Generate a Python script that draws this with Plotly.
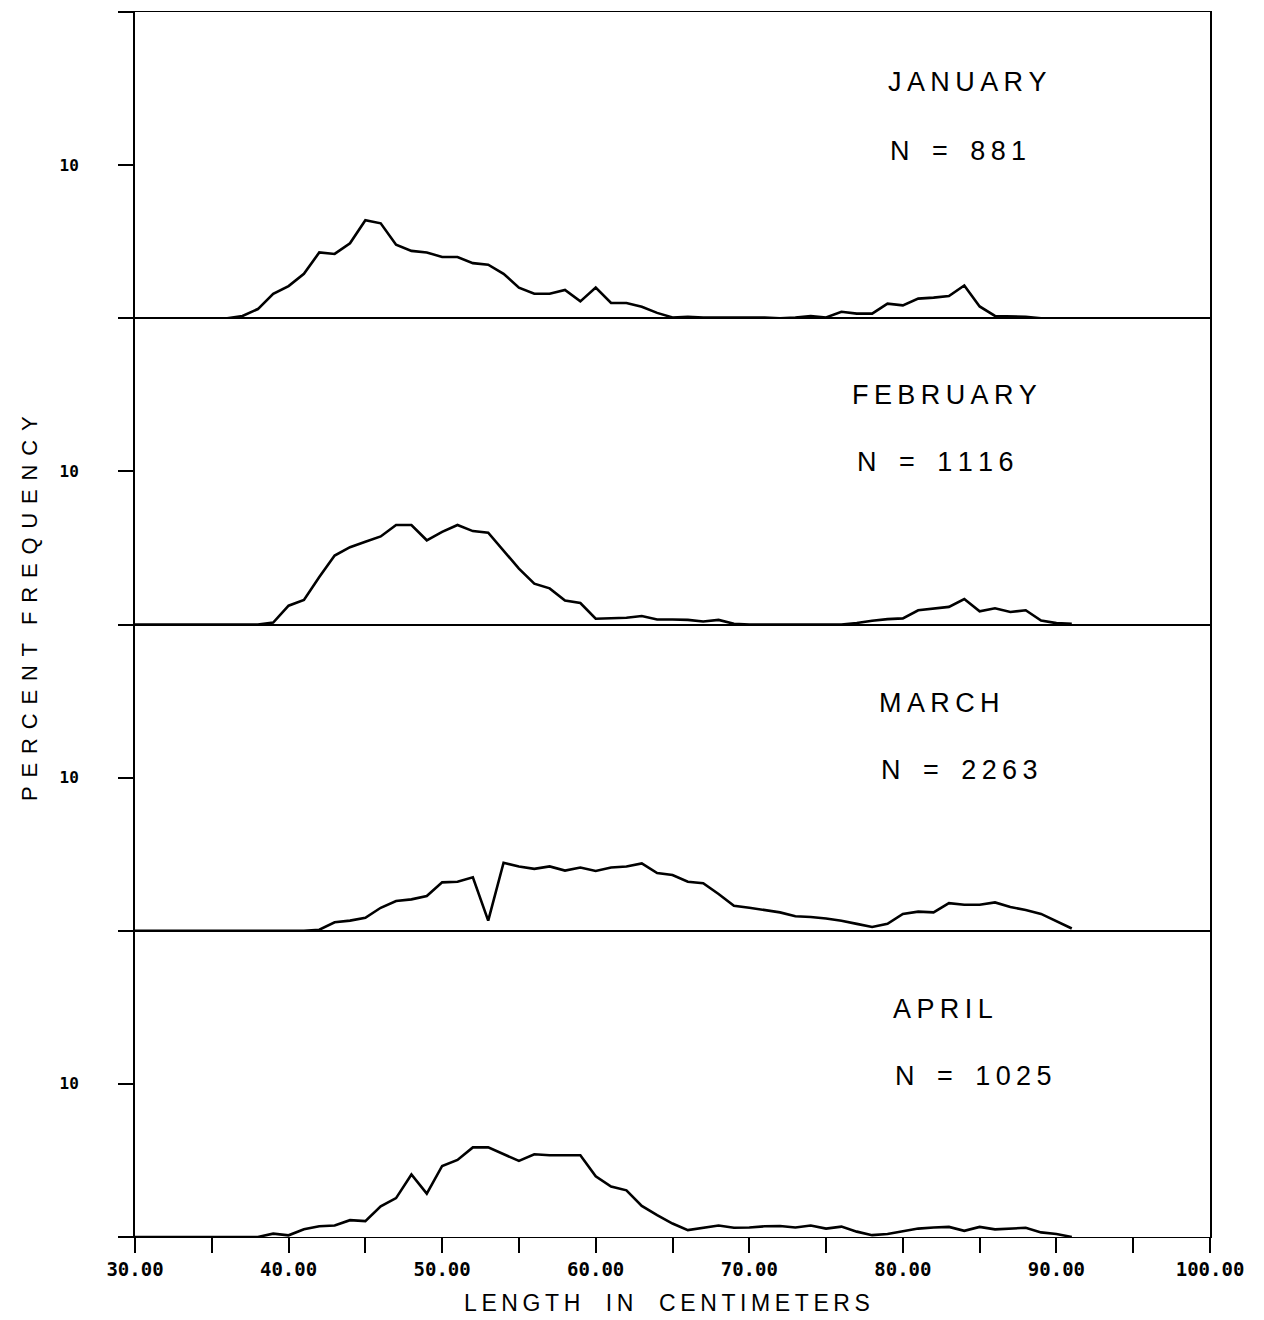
import plotly.graph_objects as go
from plotly.subplots import make_subplots

# ---------------- data ----------------
length_cm = list(range(30, 92))  # 30 .. 91 cm, 1-cm classes

jan_pct = [0, 0, 0, 0, 0, 0,
           0, 0.15, 0.6, 1.6, 2.1, 2.9, 4.3, 4.2, 4.9, 6.4,
           6.2, 4.8, 4.4, 4.3, 4.0, 4.0, 3.6, 3.5, 2.9, 2.0,
           1.6, 1.6, 1.85, 1.1, 2.0, 1.0, 1.0, 0.75, 0.35, 0.05,
           0.1, 0.05, 0.05, 0.05, 0.05, 0.05, 0.0, 0.05, 0.15, 0.05,
           0.42, 0.3, 0.3, 0.95, 0.84, 1.28, 1.35, 1.45, 2.14, 0.77,
           0.15, 0.12, 0.1, 0, 0, 0]

feb_pct = [0, 0, 0, 0, 0, 0, 0, 0,
           0, 0.13, 1.23, 1.6, 3.1, 4.5, 5.05, 5.4, 5.75, 6.5,
           6.5, 5.5, 6.05, 6.5, 6.1, 6.0, 4.8, 3.65, 2.67, 2.36,
           1.57, 1.4, 0.38, 0.4, 0.44, 0.55, 0.33, 0.33, 0.3, 0.2,
           0.3, 0.05, 0, 0, 0, 0, 0, 0, 0, 0.1,
           0.25, 0.35, 0.4, 0.93, 1.05, 1.15, 1.66, 0.86, 1.06, 0.82,
           0.93, 0.26, 0.09, 0.04]

mar_pct = [0, 0, 0, 0, 0, 0, 0, 0, 0, 0, 0, 0,
           0.07, 0.55, 0.66, 0.84, 1.5, 1.94, 2.05, 2.27,
           3.16, 3.2, 3.49, 0.66, 4.44, 4.2, 4.04, 4.2, 3.93, 4.13,
           3.9, 4.13, 4.2, 4.4, 3.77, 3.64, 3.2, 3.1, 2.4, 1.63,
           1.5, 1.35, 1.2, 0.95, 0.9, 0.8, 0.65, 0.45, 0.25, 0.45,
           1.1, 1.25, 1.2, 1.8, 1.7, 1.7, 1.85, 1.55, 1.35, 1.1,
           0.65, 0.15]

apr_pct = [0, 0, 0, 0, 0, 0, 0, 0, 0,
           0.22, 0.11, 0.5, 0.7, 0.75, 1.1, 1.04, 2.0, 2.54, 4.08,
           2.83, 4.64, 5.03, 5.85, 5.85, 5.4, 4.97, 5.4, 5.34, 5.34,
           5.34, 3.97, 3.3, 3.05, 2.03, 1.43, 0.88, 0.45, 0.6, 0.75,
           0.6, 0.62, 0.7, 0.72, 0.62, 0.75, 0.55, 0.68, 0.35, 0.12,
           0.2, 0.4, 0.55, 0.62, 0.66, 0.4, 0.66, 0.5, 0.55, 0.6,
           0.3, 0.2, 0]

months = ["JANUARY", "FEBRUARY", "MARCH", "APRIL"]
n_counts = ["881", "1116", "2263", "1025"]
series = [jan_pct, feb_pct, mar_pct, apr_pct]

x_ticks = list(range(30, 101, 5))
x_ticktext = [f"{v:.2f}" if v % 10 == 0 else "" for v in x_ticks]
y_ticks = [0, 10, 20]
y_ticktext = ["", "10", ""]

# label positions (data coords inside each panel)
month_label_pos = [(84.2, 15.4), (82.7, 15.0), (82.4, 14.9), (82.6, 14.9)]
n_label_pos = [(83.6, 10.9), (82.1, 10.6), (83.7, 10.5), (84.6, 10.5)]

# ---------------- helpers ----------------
TS = "\u2009"  # thin space for letter spacing


def spaced(text, word_gap=2, inner=1):
    words = text.split(" ")
    return (" " * word_gap).join((TS * inner).join(list(w)) for w in words)


# ---------------- figure ----------------
fig = make_subplots(rows=4, cols=1, shared_xaxes=True, vertical_spacing=0)

for i, vals in enumerate(series):
    xs = length_cm[:len(vals)]
    fig.add_trace(
        go.Scatter(x=xs, y=vals, mode="lines",
                   line=dict(color="black", width=2.6),
                   showlegend=False, hoverinfo="skip"),
        row=i + 1, col=1)

LINE = "black"
for i in range(4):
    last = (i == 3)
    fig.update_xaxes(
        range=[30, 100], showgrid=False, zeroline=False,
        showline=True, linecolor=LINE, linewidth=1, mirror=True,
        tickvals=x_ticks, ticktext=x_ticktext,
        ticks="outside" if last else "", ticklen=15, tickwidth=2, tickcolor=LINE,
        showticklabels=last,
        tickfont=dict(family="DejaVu Sans Mono", size=19, color="black", weight="bold"),
        row=i + 1, col=1)
    fig.update_yaxes(
        range=[0, 20], showgrid=False, zeroline=False,
        showline=True, linecolor=LINE, linewidth=2, mirror=True,
        tickvals=y_ticks, ticktext=y_ticktext,
        ticks="outside", ticklen=15, tickwidth=2, tickcolor=LINE,
        ticklabelstandoff=36,
        tickfont=dict(family="DejaVu Sans Mono", size=16, color="black", weight="bold"),
        row=i + 1, col=1)

annotations = []
for i in range(4):
    xr = "x" if i == 0 else f"x{i + 1}"
    yr = "y" if i == 0 else f"y{i + 1}"
    mx, my = month_label_pos[i]
    nx, ny = n_label_pos[i]
    annotations.append(dict(x=mx, y=my, xref=xr, yref=yr, text=spaced(months[i]),
                            showarrow=False, xanchor="center", yanchor="middle",
                            font=dict(family="Liberation Sans", size=27, color="black")))
    annotations.append(dict(x=nx, y=ny, xref=xr, yref=yr,
                            text=spaced("N = " + n_counts[i], 3),
                            showarrow=False, xanchor="center", yanchor="middle",
                            font=dict(family="Liberation Sans", size=27, color="black")))

annotations.append(dict(x=0.495, y=-0.0539, xref="paper", yref="paper",
                        text=spaced("LENGTH IN CENTIMETERS", 4, 1),
                        showarrow=False, xanchor="center", yanchor="middle",
                        font=dict(family="Liberation Sans", size=23, color="black")))
annotations.append(dict(x=-0.0977, y=0.5135, xref="paper", yref="paper",
                        text=spaced("PERCENT FREQUENCY", 3, 2), textangle=-90,
                        showarrow=False, xanchor="center", yanchor="middle",
                        font=dict(family="Liberation Sans", size=22, color="black")))

fig.update_layout(
    width=1264, height=1320,
    margin=dict(l=135, r=54, t=12, b=83),
    paper_bgcolor="white", plot_bgcolor="white",
    showlegend=False,
    annotations=annotations,
)

fig.write_html("out.html")
